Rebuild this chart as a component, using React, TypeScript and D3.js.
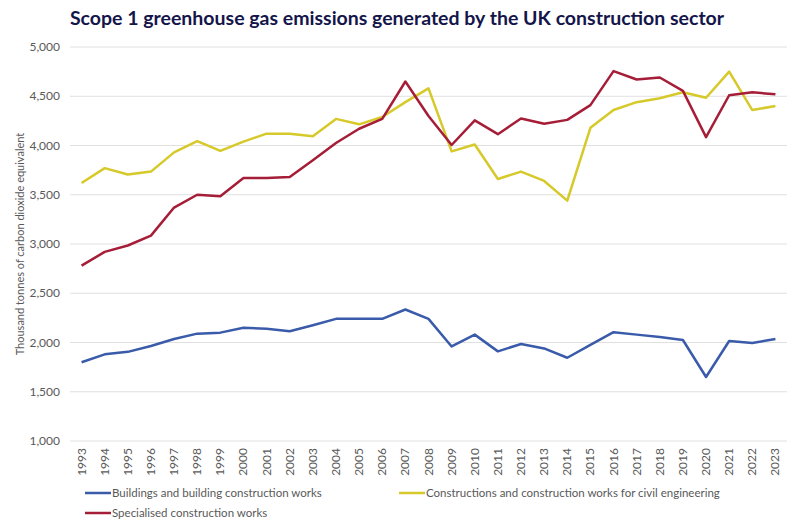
import React from "react";
import * as d3 from "d3";

const years = d3.range(1993, 2024).map(String);

const buildings = [
  1800, 1880, 1905, 1965, 2035, 2090, 2100, 2150, 2140, 2115, 2175, 2240, 2240, 2240, 2335, 2240,
  1960, 2080, 1910, 1985, 1940, 1845, 1975, 2105, 2080, 2055, 2025, 1650, 2015, 1995, 2035,
];
const civil = [
  3620, 3770, 3705, 3735, 3930, 4045, 3945, 4040, 4120, 4120, 4095, 4270, 4215, 4290, 4440, 4580,
  3940, 4010, 3660, 3735, 3640, 3440, 4180, 4360, 4440, 4480, 4540, 4485, 4750, 4360, 4400,
];
const specialised = [
  2780, 2920, 2985, 3085, 3370, 3500, 3485, 3670, 3670, 3680, 3850, 4025, 4170, 4270, 4650, 4300,
  4005, 4255, 4115, 4275, 4220, 4260, 4410, 4755, 4670, 4690, 4555, 4085, 4510, 4540, 4520,
];
const yTicks = [1000, 1500, 2000, 2500, 3000, 3500, 4000, 4500, 5000];

const series = [
  { name: "Buildings and building construction works", values: buildings, color: "#3a5ba9" },
  { name: "Constructions and construction works for civil engineering", values: civil, color: "#d6c92a" },
  { name: "Specialised construction works", values: specialised, color: "#a51d37" },
];

const W = 790;
const H = 519;
const m = { left: 70, right: 3, top: 47, bottom: 78 };

export default function App() {
  const x = d3.scalePoint().domain(years).range([m.left, W - m.right]).padding(0.5);
  const y = d3.scaleLinear().domain([1000, 5000]).range([H - m.bottom, m.top]);
  const line = d3
    .line<number>()
    .x((_, i) => x(years[i])!)
    .y((d) => y(d));
  const fmt = d3.format(",");
  const font = "Lato, 'Open Sans', sans-serif";

  // legend slots: two on first row, one below
  const legendPos = [
    { x: 85, y: 493 },
    { x: 399, y: 493 },
    { x: 85, y: 513 },
  ];

  return (
    <svg
      width={W}
      height={H}
      style={{ position: "absolute", left: 0, top: 0, background: "#fff" }}
      fontFamily={font}
    >
      <text x={W / 2 + 2} y={25} textAnchor="middle" fontSize={19.5} fontWeight={700} fill="#14154a">
        Scope 1 greenhouse gas emissions generated by the UK construction sector
      </text>

      {yTicks.map((t) => (
        <g key={t}>
          <line x1={m.left} x2={W - m.right} y1={y(t)} y2={y(t)} stroke="#e0e0e0" strokeWidth={1} />
          <text x={60} y={y(t)} dy="0.35em" textAnchor="end" fontSize={12} fill="#595959">
            {fmt(t)}
          </text>
        </g>
      ))}

      <text
        transform={`translate(24,${(m.top + H - m.bottom) / 2}) rotate(-90)`}
        textAnchor="middle"
        fontSize={11}
        fill="#595959"
      >
        Thousand tonnes of carbon dioxide equivalent
      </text>

      {years.map((yr) => (
        <text
          key={yr}
          transform={`translate(${x(yr)! + 4},${H - m.bottom + 7}) rotate(-90)`}
          textAnchor="end"
          fontSize={12}
          fill="#595959"
        >
          {yr}
        </text>
      ))}

      {series.map((s) => (
        <path key={s.name} d={line(s.values)!} fill="none" stroke={s.color} strokeWidth={2.5} strokeLinejoin="round" />
      ))}

      {series.map((s, i) => (
        <g key={s.name} transform={`translate(${legendPos[i].x},${legendPos[i].y})`}>
          <line x1={0} x2={26} y1={0} y2={0} stroke={s.color} strokeWidth={2.5} />
          <text x={27} y={0} dy="0.35em" fontSize={11.5} fill="#595959">
            {s.name}
          </text>
        </g>
      ))}
    </svg>
  );
}
